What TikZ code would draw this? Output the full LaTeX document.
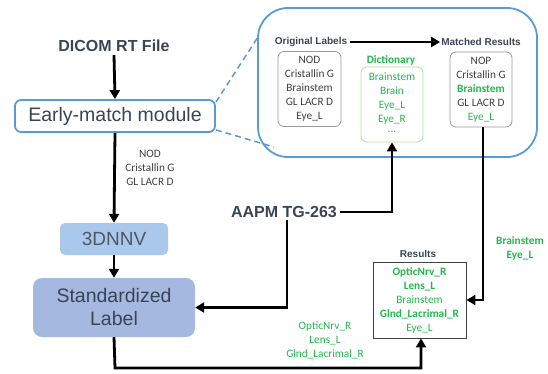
\documentclass[tikz,border=0pt]{standalone}
\usepackage{fontspec}
\setmainfont{Liberation Sans}
\newfontfamily\carl{Carlito}
\usetikzlibrary{arrows.meta}
\definecolor{slate}{HTML}{3B4456}
\definecolor{boxblue}{HTML}{5B9BD5}
\definecolor{gr}{HTML}{22B84C}
\definecolor{lightfill}{HTML}{A9C8EC}
\definecolor{stdfill}{HTML}{A4B8E0}
\definecolor{grayt}{HTML}{404040}
\definecolor{dictedge}{HTML}{B5D9A8}
\tikzset{
  flow/.style={line width=2.8pt, -{Triangle[length=9pt,width=10pt]}},
  title/.style={font=\bfseries, text=slate, inner sep=0pt},
  small/.style={font=\carl\fontsize{11.3}{14}\selectfont, align=center, inner sep=0pt},
  lbox/.style={draw=gray!80, line width=0.8pt, rounded corners=6pt, minimum width=63pt, minimum height=75pt, inner sep=0pt},
  dashblue/.style={draw=boxblue, dashed, dash pattern=on 6pt off 4pt, line width=1.5pt},
}
\begin{document}
\begin{tikzpicture}[x=1pt,y=-1pt]
\useasboundingbox (0,0) rectangle (548,373);
% big zoom box
\node[draw=boxblue, line width=1.8pt, rounded corners=30pt, minimum width=279pt, minimum height=149pt, inner sep=0pt] (big) at (397.5,82.5) {};
% left column
\node[title, font=\bfseries\fontsize{16}{18}\selectfont] (dicom) at (114,46) {DICOM RT File};
\node[draw=boxblue, line width=1.8pt, rounded corners=6pt, fill=white, minimum width=200pt, minimum height=32pt, inner sep=0pt, text=slate, font=\fontsize{19.5}{22}\selectfont] (early) at (115,116) {Early-match module};
\node[fill=lightfill, rounded corners=5pt, minimum width=108pt, minimum height=32pt, inner sep=0pt, text=slate!90, font=\fontsize{19}{22}\selectfont] (dnnv) at (114,239) {3DNNV};
\node[fill=stdfill, rounded corners=9pt, minimum width=162pt, minimum height=59pt, inner sep=0pt, text=slate, align=center, font=\fontsize{19.5}{23}\selectfont] (std) at (114,307.5) {Standardized\\Label};
\node[small, text=grayt] (leftlab) at (150,167.5) {NOD\\Cristallin G\\GL LACR D};
% AAPM
\node[title, font=\bfseries\fontsize{16}{18}\selectfont] (aapm) at (284,212) {AAPM TG-263};
% inside big box
\node[title, font=\bfseries\fontsize{10}{12}\selectfont] (origt) at (311,42) {Original Labels};
\node[title, font=\bfseries\fontsize{10}{12}\selectfont] (matcht) at (481,42) {Matched Results};
\node[lbox] (orig) at (309.5,89) {};
\node[small, text=grayt] (origtxt) at (orig.center) {NOD\\Cristallin G\\Brainstem\\GL LACR D\\Eye\_L};
\node[small, font=\carl\bfseries\fontsize{11.3}{14}\selectfont, text=gr] (dictt) at (391,60) {Dictionary};
\node[lbox, draw=dictedge, minimum height=75pt, minimum width=62pt] (dict) at (392,104.5) {};
\node[small, text=gr, anchor=north] (dicttxt) at (392,73) {Brainstem\\Brain\\Eye\_L\\Eye\_R\\[-4pt]...};
\node[lbox, minimum width=62pt] (match) at (481,89.5) {};
\node[small, text=grayt] (matchtxt) at (match.center) {NOP\\Cristallin G\\\textcolor{gr}{\bfseries Brainstem}\\GL LACR D\\\textcolor{gr}{Eye\_L}};
% results
\node[title, font=\bfseries\fontsize{10}{12}\selectfont] (rest) at (418,254) {Results};
\node[draw=grayt, line width=0.9pt, minimum width=93pt, minimum height=76pt, inner sep=0pt] (res) at (419.5,300) {};
\node[small, text=gr] (restxt) at (res.center) {\bfseries OpticNrv\_R\\\bfseries Lens\_L\\Brainstem\\\bfseries Glnd\_Lacrimal\_R\\Eye\_L};
\node[small, text=gr, font=\carl\bfseries\fontsize{11.3}{14}\selectfont] (rlab) at (520,248) {Brainstem\\Eye\_L};
\node[small, text=gr] (blab) at (325,340) {OpticNrv\_R\\Lens\_L\\Glnd\_Lacrimal\_R};
% coordinates
\coordinate (bigA) at (258,37);
\coordinate (bigB) at (274,147);
\coordinate (botturn) at (115,368);
% dashed zoom lines
\draw[dashblue] (early.north east) ++(0,3) -- (bigA);
\draw[dashblue] (early.south east) ++(0,-3) -- (bigB);
% connectors
\draw[flow] (dicom.south) ++(0,3) -- (early.north);
\draw[flow] (early.south) -- (dnnv.north);
\draw[flow] (dnnv.south) -- (std.north);
\draw[flow] (origt.east) ++(3,0) -- ([xshift=-1pt]matcht.west);
\draw[flow] (aapm.east) ++(3,0) -| (dict.south);
\draw[flow] ([xshift=3pt]aapm.south) ++(0,2) |- (std.east);
\draw[flow] (std.south) -- (botturn) -| ([xshift=1.5pt]res.south);
\draw[flow] ([xshift=2pt]match.south) |- (res.east);
\end{tikzpicture}
\end{document}
